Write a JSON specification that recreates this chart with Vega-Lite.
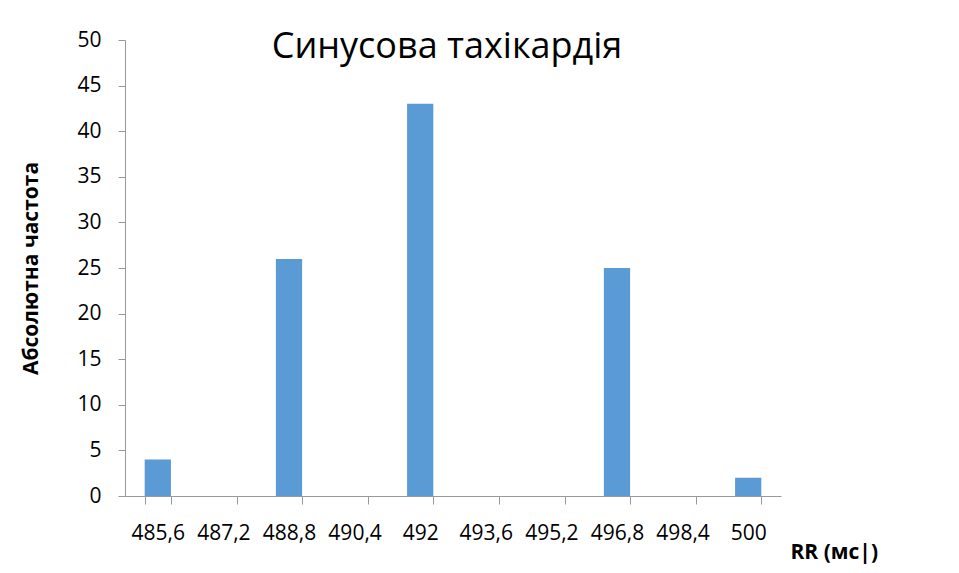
{
  "$schema": "https://vega.github.io/schema/vega-lite/v6.json",
  "width": 656,
  "height": 456,
  "autosize": "none",
  "padding": {"left": 125, "top": 40, "right": 178, "bottom": 77},
  "background": "white",
  "title": {
    "text": "Синусова тахікардія",
    "fontSize": 36,
    "fontWeight": "normal",
    "color": "#000000",
    "anchor": "middle",
    "frame": "group",
    "offset": 0,
    "baseline": "alphabetic",
    "dy": 65,
    "dx": -6
  },
  "data": {
    "values": [
      {"rr": "485,6", "count": 4},
      {"rr": "487,2", "count": 0},
      {"rr": "488,8", "count": 26},
      {"rr": "490,4", "count": 0},
      {"rr": "492", "count": 43},
      {"rr": "493,6", "count": 0},
      {"rr": "495,2", "count": 0},
      {"rr": "496,8", "count": 25},
      {"rr": "498,4", "count": 0},
      {"rr": "500", "count": 2}
    ]
  },
  "mark": {"type": "bar", "color": "#5B9BD5"},
  "encoding": {
    "x": {
      "field": "rr",
      "type": "nominal",
      "sort": null,
      "scale": {"paddingInner": 0.6, "paddingOuter": 0.3},
      "axis": {
        "labelAngle": 0,
        "labelFontSize": 21,
        "labelColor": "#000000",
        "labelOverlap": false,
        "labelFlush": false,
        "labelPadding": 18,
        "tickBand": "extent",
        "tickSize": 8,
        "tickColor": "#999999",
        "domainColor": "#999999",
        "title": "RR (мс|)",
        "titleFontSize": 21,
        "titleFontWeight": "bold",
        "titleColor": "#000000",
        "titleX": 665,
        "titleY": 56,
        "titleAlign": "left",
        "titleBaseline": "middle"
      }
    },
    "y": {
      "field": "count",
      "type": "quantitative",
      "scale": {"domain": [0, 50], "nice": false},
      "axis": {
        "values": [0, 5, 10, 15, 20, 25, 30, 35, 40, 45, 50],
        "grid": false,
        "labelFontSize": 21,
        "labelColor": "#000000",
        "labelPadding": 17,
        "tickSize": 7,
        "tickColor": "#999999",
        "domainColor": "#999999",
        "title": "Абсолютна частота",
        "titleFontSize": 21,
        "titleFontWeight": "bold",
        "titleColor": "#000000",
        "titleAngle": -90,
        "titleX": -94,
        "titleY": 228,
        "titleAlign": "center",
        "titleBaseline": "middle"
      }
    }
  },
  "config": {"view": {"stroke": null}, "font": "Open Sans"}
}
